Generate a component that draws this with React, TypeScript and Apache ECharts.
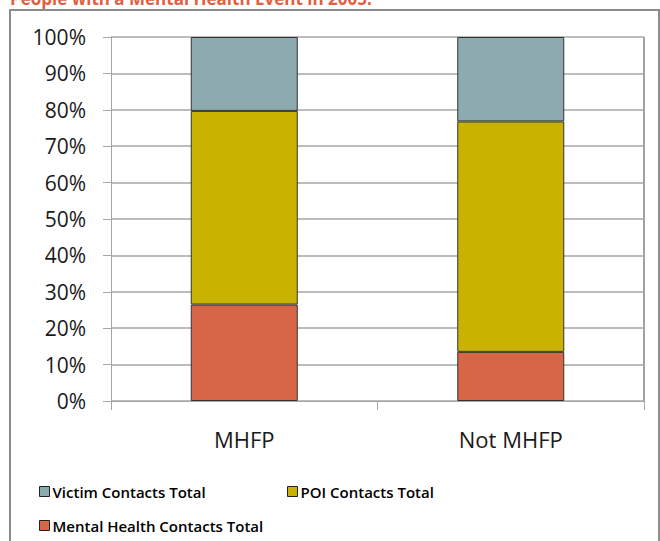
import React, { useEffect, useRef } from "react";
import * as echarts from "echarts";

const categories = ["MHFP", "Not MHFP"];
const mentalHealth = [26.5, 13.5];
const poi = [53.2, 63.3];
const victim = [20.3, 23.2];
const seriesNames = ["Victim Contacts Total", "POI Contacts Total", "Mental Health Contacts Total"];
const titleText = "People with a Mental Health Event in 2005:";

const FONT = "'Open Sans', 'Noto Sans', sans-serif";

export default function App() {
  const ref = useRef<HTMLDivElement>(null);
  useEffect(() => {
    if (!ref.current) return;
    const chart = echarts.init(ref.current, null, { renderer: "svg" });
    const border = { borderColor: "#333333", borderWidth: 1 };
    const legendBase = {
      icon: "rect", itemWidth: 10, itemHeight: 10, itemGap: 4, padding: 0,
      itemStyle: { borderColor: "#222222", borderWidth: 1 },
      textStyle: { fontSize: 15, fontWeight: 600, color: "#000", fontFamily: FONT, padding: [0, 0, 0, -2] },
    };
    chart.setOption({
      animation: false,
      backgroundColor: "#ffffff",
      textStyle: { fontFamily: FONT },
      grid: { left: 111, right: 16, top: 37, bottom: 140, containLabel: false },
      xAxis: {
        type: "category",
        data: categories,
        boundaryGap: true,
        axisLine: { show: true, lineStyle: { color: "#a6a6a6", width: 1 } },
        axisTick: { show: true, length: 9, interval: 0, lineStyle: { color: "#a6a6a6" } },
        axisLabel: { color: "#1a1a1a", fontSize: 22, fontFamily: FONT, margin: 27 },
      },
      yAxis: {
        type: "value",
        min: 0,
        max: 100,
        interval: 10,
        axisLine: { show: true, lineStyle: { color: "#a6a6a6", width: 1 } },
        axisTick: { show: true, length: 8, lineStyle: { color: "#a6a6a6" } },
        axisLabel: { formatter: "{value}%", color: "#1a1a1a", fontSize: 21, fontFamily: FONT, margin: 25 },
        splitLine: { show: true, lineStyle: { color: "#a6a6a6", width: 1.5 } },
      },
      legend: [
        { ...legendBase, data: [seriesNames[0]], left: 39, top: 484 },
        { ...legendBase, data: [seriesNames[1]], left: 287, top: 484 },
        { ...legendBase, data: [seriesNames[2]], left: 39, top: 518 },
      ],
      series: [
        {
          name: seriesNames[2], type: "bar", stack: "total", data: mentalHealth, barWidth: 107,
          itemStyle: { color: "#d66646", ...border },
        },
        {
          name: seriesNames[1], type: "bar", stack: "total", data: poi, barWidth: 107,
          itemStyle: { color: "#c9b300", ...border },
        },
        {
          name: seriesNames[0], type: "bar", stack: "total", data: victim, barWidth: 107,
          itemStyle: { color: "#8dabae", ...border },
        },
      ],
      graphic: [
        {
          type: "rect", silent: true,
          shape: { x: 10, y: 10, width: 649, height: 600 },
          style: { fill: "none", stroke: "#8c8c8c", lineWidth: 2 },
        },
        {
          type: "line", silent: true,
          shape: { x1: 644, y1: 37, x2: 644, y2: 401 },
          style: { stroke: "#444", lineWidth: 1 },
        },
        {
          type: "text", silent: true, x: 10, y: 7,
          style: { text: titleText, fill: "#e2603f", fontSize: 17, fontWeight: "bold", fontFamily: FONT, verticalAlign: "bottom" },
        },
      ],
    });
    return () => chart.dispose();
  }, []);
  return <div ref={ref} style={{ position: "fixed", left: 0, top: 0, width: 660, height: 541 }} />;
}
